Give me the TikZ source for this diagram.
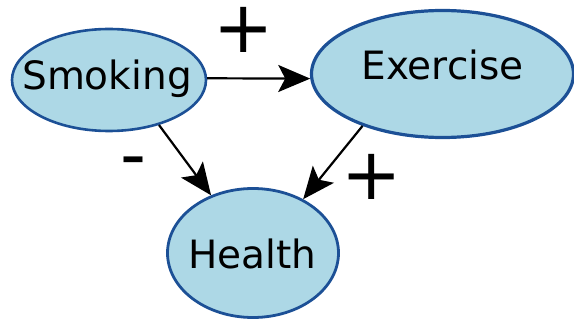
\documentclass[tikz,border=0pt]{standalone}
\usepackage{fontspec}
\setmainfont{DejaVu Sans}
\usetikzlibrary{shapes.geometric,arrows.meta}
\definecolor{nodefill}{RGB}{173,216,230}
\definecolor{nodeline}{RGB}{28,80,150}
\tikzset{
  var/.style={ellipse, draw=nodeline, fill=nodefill, inner sep=0pt, line width=2.6pt},
  vartext/.style={font=\fontsize{39}{44}\selectfont, anchor=base, inner sep=0pt},
  link/.style={line width=2.2pt, -{Stealth[length=32pt, width=27pt, inset=7pt]}},
  sign/.style={font=\fontsize{72}{80}\selectfont, inner sep=0pt}
}
\begin{document}
\begin{tikzpicture}[x=1pt, y=-1pt]
  \useasboundingbox (0,0) rectangle (574,321);
  % variables
  \node[var, minimum width=194pt, minimum height=102pt] (smoking) at (109,80) {};
  \node[var, minimum width=262pt, minimum height=127pt, line width=3.2pt] (exercise) at (442.5,74) {};
  \node[var, minimum width=171pt, minimum height=129pt, line width=2.8pt] (health) at (253,253) {};
  \node[vartext] (smokingtext) at (107,90) {Smoking};
  \node[vartext] (exercisetext) at (442.5,80) {Exercise};
  \node[vartext] (healthtext) at (252.5,269) {Health};
  % causal links
  \draw[link] (smoking.1) -- (exercise.182.6);
  \draw[link] (smoking.-42.6) -- (health.126);
  \draw[link] (exercise.213.9) -- (health.47);
  % signs of the effects
  \node[sign] (s1) at (244,30) {+};
  \node[sign] (s2) at (133,168) {-};
  \node[sign] (s3) at (372,177) {+};
\end{tikzpicture}
\end{document}
